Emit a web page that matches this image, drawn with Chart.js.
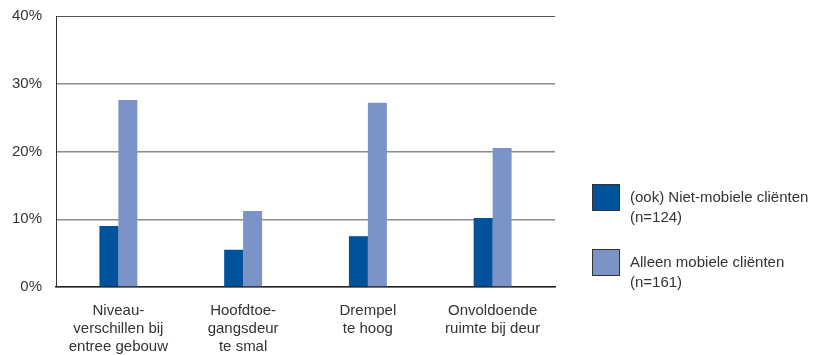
<!DOCTYPE html>
<html>
<head>
<meta charset="utf-8">
<script src="https://cdn.jsdelivr.net/npm/chart.js@4/dist/chart.umd.min.js"></script>
<style>
  html, body { margin: 0; padding: 0; background: #fff; }
  #wrap { position: relative; width: 816px; height: 355px; }
  #legend { position: absolute; left: 592px; top: 184px; font-family: "Liberation Sans", Arial, sans-serif; font-size: 15px; line-height: 20px; color: #333; }
  .item { display: flex; align-items: flex-start; margin-bottom: 22px; }
  .box { width: 26px; height: 25px; border: 1px solid #333; margin-right: 10px; flex: none; }
  .txt { margin-top: 3px; }
</style>
</head>
<body>
<div id="wrap">
  <canvas id="c" width="816" height="355"></canvas>
  <div id="legend"></div>
</div>
<script>
// Problemen met de toegang tot het gebouw, in procenten
const categories = [
  ["Niveau-", "verschillen bij", "entree gebouw"],
  ["Hoofdtoe-", "gangsdeur", "te smal"],
  ["Drempel", "te hoog"],
  ["Onvoldoende", "ruimte bij deur"]
];
const seriesNames = [
  ["(ook) Niet-mobiele cliënten", "(n=124)"],
  ["Alleen mobiele cliënten", "(n=161)"]
];
const nietMobiel = [9.0, 5.5, 7.5, 10.2];
const alleenMobiel = [27.6, 11.2, 27.2, 20.5];
const yTicks = [0, 10, 20, 30, 40];

const colors = ["#00529b", "#7b93c6"];
const font = { family: "'Liberation Sans', Arial, sans-serif", size: 15 };

const chart = new Chart(document.getElementById("c"), {
  type: "bar",
  data: {
    labels: categories,
    datasets: [
      { label: seriesNames[0].join(" "), data: nietMobiel, backgroundColor: colors[0] },
      { label: seriesNames[1].join(" "), data: alleenMobiel, backgroundColor: colors[1] }
    ]
  },
  options: {
    responsive: false,
    animation: false,
    layout: { padding: { top: 16, right: 261, left: 0, bottom: 0 } },
    datasets: { bar: { categoryPercentage: 0.304, barPercentage: 1 } },
    plugins: { legend: { display: false }, tooltip: { enabled: false } },
    scales: {
      x: {
        grid: { display: false },
        border: { display: true, color: "#222", width: 1.5 },
        ticks: { color: "#333", font: font, padding: 7, maxRotation: 0, autoSkip: false },
        afterFit: s => { s.height = 68; s.paddingLeft = 0; s.paddingRight = 0; }
      },
      y: {
        min: yTicks[0],
        max: yTicks[yTicks.length - 1],
        afterBuildTicks: s => { s.ticks = yTicks.map(v => ({ value: v })); },
        grid: {
          drawTicks: false,
          color: c => c.tick.value === 40 ? "#555" : "#8c8c8c",
          lineWidth: c => c.tick.value === 40 ? 1 : 1.5
        },
        border: { display: true, color: "#333", width: 1 },
        ticks: { color: "#333", font: font, padding: 14, callback: v => v + "%" },
        afterFit: s => { s.width = 56; s.paddingTop = 0; s.paddingBottom = 0; }
      }
    }
  }
});

// Legenda naast de grafiek
const legend = document.getElementById("legend");
chart.data.datasets.forEach((ds, i) => {
  const item = document.createElement("div");
  item.className = "item";
  const box = document.createElement("div");
  box.className = "box";
  box.style.background = ds.backgroundColor;
  const txt = document.createElement("div");
  txt.className = "txt";
  txt.innerHTML = seriesNames[i].join("<br>");
  item.appendChild(box);
  item.appendChild(txt);
  legend.appendChild(item);
});
</script>
</body>
</html>
